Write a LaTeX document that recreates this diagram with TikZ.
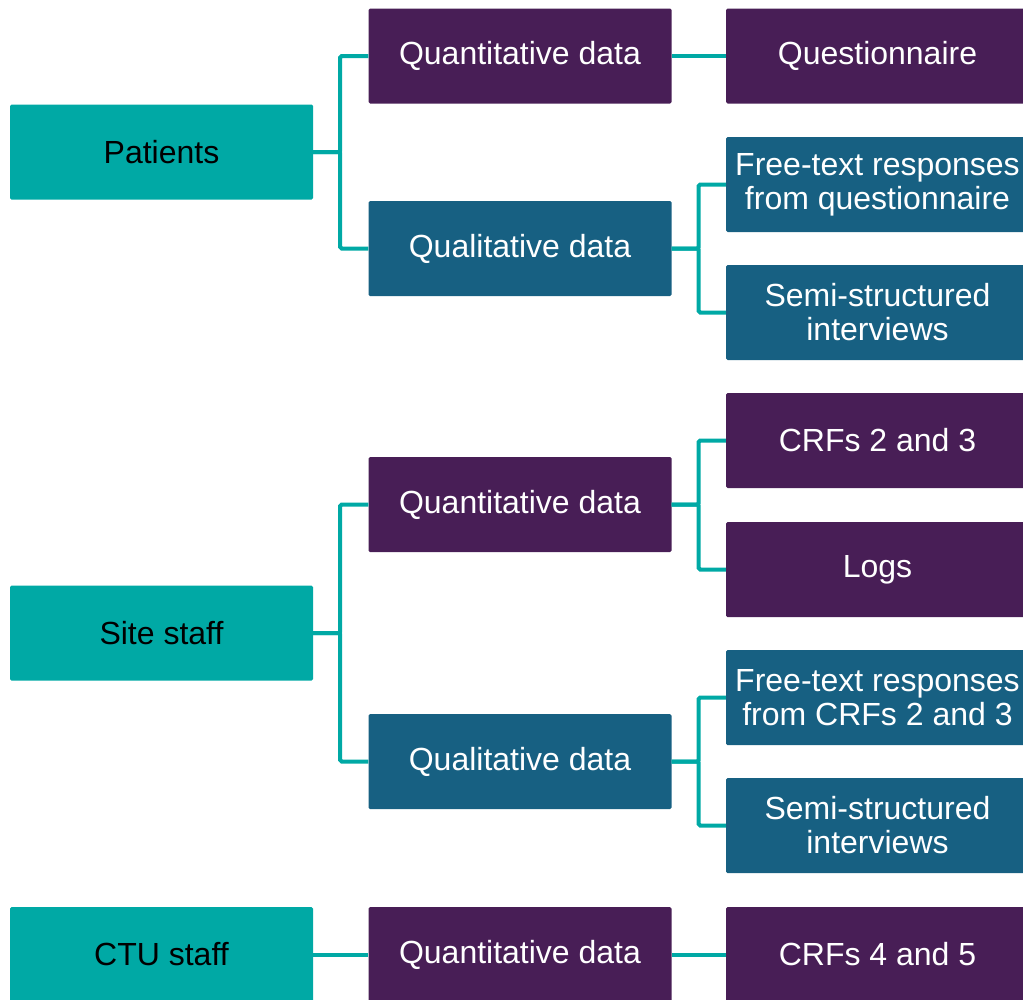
\documentclass[tikz,border=0pt]{standalone}
\usepackage{fontspec}
\setmainfont{Liberation Sans}
\definecolor{tealbox}{RGB}{0,169,165}
\definecolor{plumbox}{RGB}{72,30,86}
\definecolor{bluebox}{RGB}{23,96,130}
\begin{document}
\begin{tikzpicture}[x=1pt,y=-1pt,
  box/.style={rectangle, rounded corners=1.5pt, minimum width=303pt, minimum height=95pt,
    inner sep=0pt, align=center, font=\fontsize{32}{34}\selectfont},
  grp/.style={box, fill=tealbox, text=black},
  quant/.style={box, fill=plumbox, text=white},
  qual/.style={box, fill=bluebox, text=white},
  conn/.style={draw=tealbox, line width=4pt, rounded corners=1.5pt}]
\useasboundingbox (0,0) rectangle (1023,999);
\begin{scope}
\clip (0,0) rectangle (1023,999);
% first column: respondent groups
\node[grp] (pat) at (161.5,152) {Patients};
\node[grp] (site) at (161.5,633) {Site staff};
\node[grp] (ctu) at (161.5,954.5) {CTU staff};
% second column: data types
\node[quant] (pqn) at (520,56) {Quantitative data};
\node[qual] (pql) at (520,248.5) {Qualitative data};
\node[quant] (sqn) at (520,504.5) {Quantitative data};
\node[qual] (sql) at (520,761.5) {Qualitative data};
\node[quant] (cqn) at (520,954.5) {Quantitative data};
% third column: data sources
\node[quant] (quest) at (877.5,56) {Questionnaire};
\node[qual] (pfree) at (877.5,184.5) {Free-text responses\\from questionnaire};
\node[qual] (psemi) at (877.5,312.5) {Semi-structured\\interviews};
\node[quant] (crf23) at (877.5,440.5) {CRFs 2 and 3};
\node[quant] (logs) at (877.5,569.5) {Logs};
\node[qual] (sfree) at (877.5,697.5) {Free-text responses\\from CRFs 2 and 3};
\node[qual] (ssemi) at (877.5,825.5) {Semi-structured\\interviews};
\node[quant] (crf45) at (877.5,954.5) {CRFs 4 and 5};
\end{scope}
% connectors: group to data type
\draw[conn] (pat.east) -- ([xshift=27pt]pat.east) |- (pqn.west);
\draw[conn] (pat.east) -- ([xshift=27pt]pat.east) |- (pql.west);
\draw[conn] (site.east) -- ([xshift=27pt]site.east) |- (sqn.west);
\draw[conn] (site.east) -- ([xshift=27pt]site.east) |- (sql.west);
\draw[conn] (ctu.east) -- (cqn.west);
% connectors: data type to source
\draw[conn] (pqn.east) -- (quest.west);
\draw[conn] (pql.east) -- ([xshift=27pt]pql.east) |- (pfree.west);
\draw[conn] (pql.east) -- ([xshift=27pt]pql.east) |- (psemi.west);
\draw[conn] (sqn.east) -- ([xshift=27pt]sqn.east) |- (crf23.west);
\draw[conn] (sqn.east) -- ([xshift=27pt]sqn.east) |- (logs.west);
\draw[conn] (sql.east) -- ([xshift=27pt]sql.east) |- (sfree.west);
\draw[conn] (sql.east) -- ([xshift=27pt]sql.east) |- (ssemi.west);
\draw[conn] (cqn.east) -- (crf45.west);
\end{tikzpicture}
\end{document}
